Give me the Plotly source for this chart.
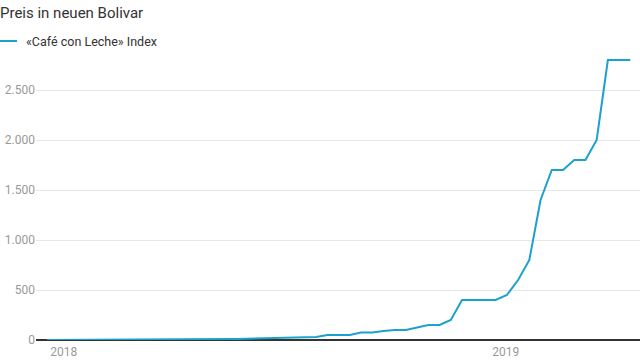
import pandas as pd
import plotly.graph_objects as go

# --- data ---
start_date = "2017-12-18"
end_date = "2019-04-14"
values = [0.3, 0.4, 0.5, 0.6, 0.8, 1, 1.2, 1.5, 2, 2.5,
          3, 3.5, 4, 5, 6, 7, 9, 10, 12, 14,
          15, 17, 20, 25, 30, 50, 50, 50, 75, 75,
          90, 100, 100, 125, 150, 150, 200, 400, 400, 400,
          400, 450, 600, 800, 1400, 1700, 1700, 1800, 1800, 2000,
          2800, 2800, 2800]
dates = pd.date_range(start_date, end_date, periods=len(values))
series_name = "«Café con Leche» Index"
title_text = "Preis in neuen Bolivar"
y_ticks = [0, 500, 1000, 1500, 2000, 2500]

W, H = 640, 360
ML, MR, MT, MB = 36, 0, 50, 20
pw = W - ML - MR
ph = H - MT - MB

BLUE = "#1ca1cd"
FONT = "Roboto"

fig = go.Figure()
fig.add_trace(go.Scatter(
    x=dates, y=values, mode="lines", name=series_name,
    line=dict(color=BLUE, width=2), showlegend=False,
    hoverinfo="x+y",
))

def px_x(p):
    return (p - ML) / pw

def px_y(p):
    return (H - MB - p) / ph

fig.update_layout(
    width=W, height=H,
    margin=dict(l=ML, r=MR, t=MT, b=MB),
    paper_bgcolor="white", plot_bgcolor="white",
    separators=",.",
    font=dict(family=FONT, color="#333"),
    title=dict(text=title_text, x=0, xref="container", xanchor="left",
               y=1 - 13 / H, yref="container", yanchor="middle",
               font=dict(family=FONT, size=15, color="#333")),
    xaxis=dict(type="date", range=["2017-12-09", "2019-04-22"],
               dtick="M12", tick0="2018-01-01", tickformat="%Y",
               showgrid=False, zeroline=False, showline=False, ticks="",
               ticklabelstandoff=3,
               tickfont=dict(family=FONT, size=12, color="#999")),
    yaxis=dict(range=[0, 2900], tickvals=y_ticks, tickformat=",d",
               showgrid=True, gridcolor="#e6e6e6", gridwidth=1,
               zeroline=True, zerolinecolor="#333", zerolinewidth=1.5,
               showline=False, ticks="",
               tickfont=dict(family=FONT, size=12, color="#999")),
    shapes=[dict(type="line", xref="paper", yref="paper",
                 x0=px_x(0), x1=px_x(17), y0=px_y(41), y1=px_y(41),
                 line=dict(color=BLUE, width=2))],
    annotations=[dict(text=series_name, xref="paper", yref="paper",
                      x=px_x(24), y=px_y(41), xanchor="left", yanchor="middle",
                      showarrow=False,
                      font=dict(family=FONT, size=12.5, color="#333"))],
)

fig.write_html("out.html",
               config={"displayModeBar": False},
               post_script="document.body.style.margin='0';document.body.style.overflow='hidden';")
